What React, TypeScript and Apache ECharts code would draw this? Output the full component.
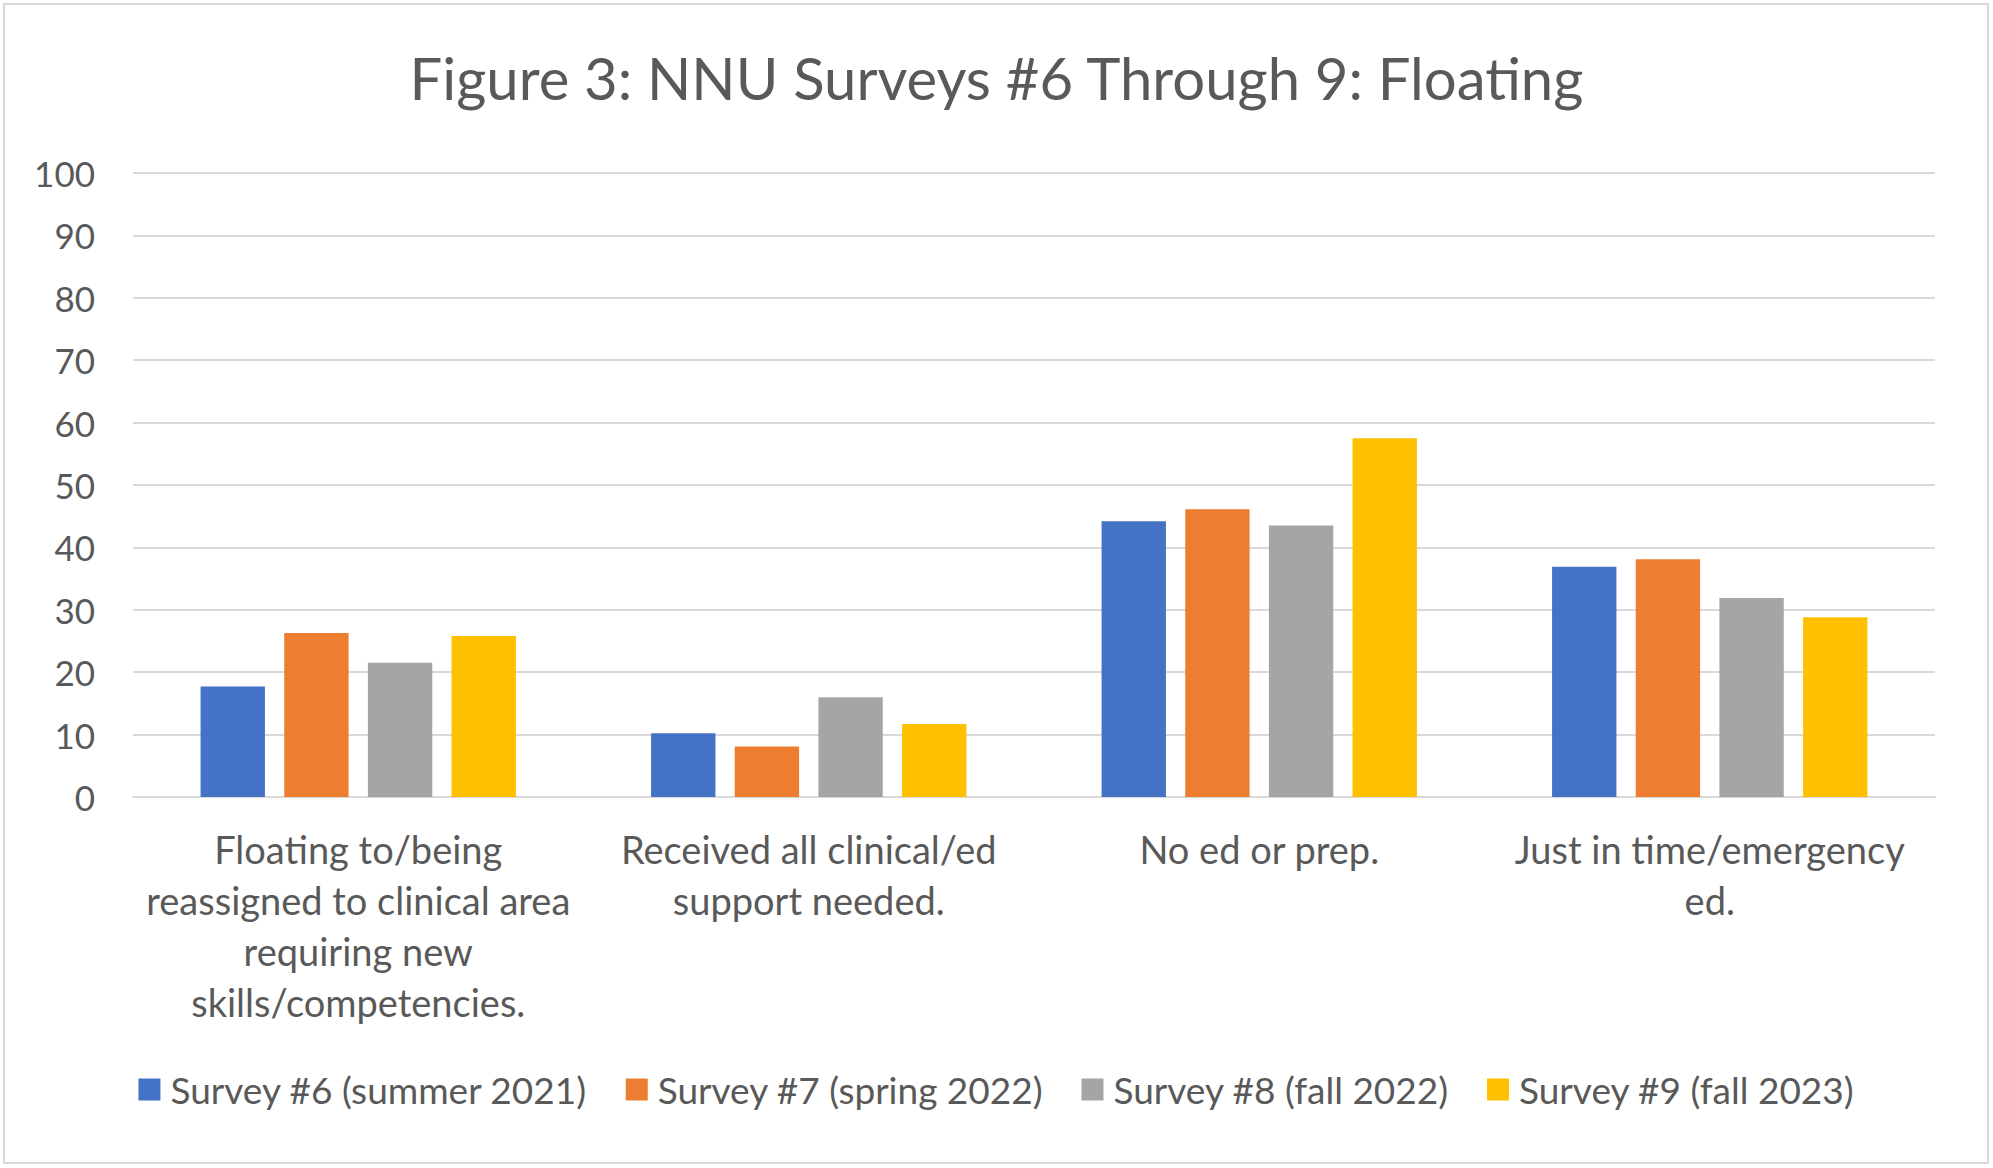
import React, { useEffect, useRef } from "react";
import * as echarts from "echarts";

const titleText = "Figure 3: NNU Surveys #6 Through 9: Floating";
const categories = [
  "Floating to/being\nreassigned to clinical area\nrequiring new\nskills/competencies.",
  "Received all clinical/ed\nsupport needed.",
  "No ed or prep.",
  "Just in time/emergency\ned.",
];
const seriesNames = [
  "Survey #6 (summer 2021)",
  "Survey #7 (spring 2022)",
  "Survey #8 (fall 2022)",
  "Survey #9 (fall 2023)",
];
const survey6 = [17.7, 10.2, 44.2, 36.9];
const survey7 = [26.3, 8.1, 46.1, 38.1];
const survey8 = [21.5, 16.0, 43.5, 31.9];
const survey9 = [25.8, 11.7, 57.5, 28.8];
const colors = ["#4472C4", "#ED7D31", "#A5A5A5", "#FFC000"];

const FONT = "Lato, 'Noto Sans', sans-serif";
const TXT = "#595959";

export default function App() {
  const ref = useRef<HTMLDivElement>(null);
  useEffect(() => {
    document.body.style.margin = "0";
    if (!ref.current) return;
    const chart = echarts.init(ref.current, undefined, { renderer: "svg" });
    const values = [survey6, survey7, survey8, survey9];
    chart.setOption({
      animation: false,
      backgroundColor: "#ffffff",
      textStyle: { fontFamily: FONT },
      title: {
        text: titleText,
        left: "center",
        top: 43,
        textStyle: { fontFamily: FONT, fontSize: 58, fontWeight: "normal", color: TXT },
      },
      graphic: [
        {
          type: "rect",
          shape: { x: 4, y: 4, width: 1984, height: 1159 },
          style: { fill: "none", stroke: "#D9D9D9", lineWidth: 2 },
          silent: true,
        },
      ],
      legend: {
        data: seriesNames,
        left: "center",
        top: 1066,
        itemWidth: 22,
        itemHeight: 22,
        itemGap: 38,
        icon: "rect",
        textStyle: { fontFamily: FONT, fontSize: 37, color: TXT, padding: [0, 0, 0, 5] },
      },
      grid: { left: 133, right: 58, top: 173, bottom: 371, containLabel: false },
      xAxis: {
        type: "category",
        data: categories,
        axisTick: { show: false },
        axisLine: { show: true, lineStyle: { color: "#D9D9D9", width: 2 } },
        axisLabel: {
          interval: 0,
          fontFamily: FONT,
          fontSize: 38,
          color: TXT,
          lineHeight: 51,
          margin: 26,
        },
      },
      yAxis: {
        type: "value",
        min: 0,
        max: 100,
        interval: 10,
        axisLine: { show: false },
        axisTick: { show: false },
        splitLine: { lineStyle: { color: "#D9D9D9", width: 2 } },
        axisLabel: { fontFamily: FONT, fontSize: 35, color: TXT, margin: 38 },
      },
      series: seriesNames.map((name, i) => ({
        name,
        type: "bar",
        data: values[i],
        barGap: "30%",
        barCategoryGap: "30%",
        itemStyle: { color: colors[i] },
      })),
    });
    return () => chart.dispose();
  }, []);
  return <div ref={ref} style={{ width: 1993, height: 1168 }} />;
}
